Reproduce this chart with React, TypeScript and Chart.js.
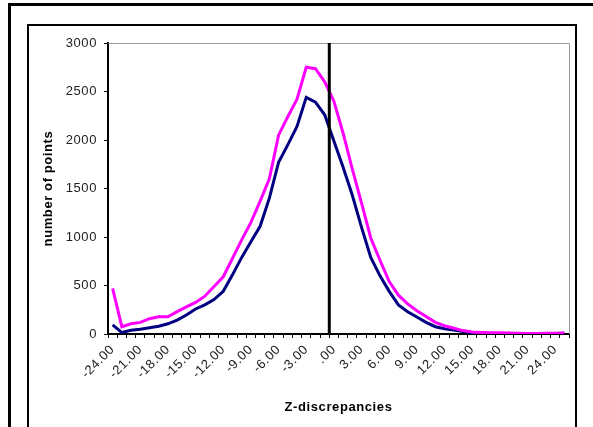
import React, { useEffect, useRef } from 'react';
import { Chart, registerables } from 'chart.js';

Chart.register(...registerables);

// Category axis (Z-discrepancy bins)
const categories = [
  -24, -23, -22, -21, -20, -19, -18, -17, -16, -15,
  -14, -13, -12, -11, -10, -9, -8, -7, -6, -5,
  -4, -3, -2, -1, 0, 1, 2, 3, 4, 5,
  6, 7, 8, 9, 10, 11, 12, 13, 14, 15,
  16, 17, 18, 19, 20, 21, 22, 23, 24, 25,
];

// Magenta series
const seriesMagenta = [
  470, 75, 105, 120, 158, 178, 178, 230, 280, 325,
  390, 490, 590, 780, 970, 1150, 1370, 1600, 2050, 2240,
  2420, 2750, 2735, 2600, 2400, 2070, 1700, 1350, 990, 760,
  540, 400, 310, 240, 180, 120, 85, 60, 35, 20,
  15, 12, 12, 10, 8, 6, 5, 8, 8, 10,
];

// Navy series
const seriesNavy = [
  95, 15, 38, 50, 65, 80, 105, 144, 196, 258,
  300, 355, 440, 610, 790, 950, 1110, 1400, 1770, 1950,
  2140, 2440, 2390, 2260, 1990, 1720, 1430, 1100, 790, 600,
  440, 300, 230, 175, 120, 75, 55, 40, 25, 12,
  8, 6, 5, 5, 4, 4, 3, 4, 5, 8,
];

const yMin = 0;
const yMax = 3000;
const yStep = 500;
const labelEvery = 3;

// Vertical reference line position on the category axis
const markerValue = -0.5;

const FONT = "'Liberation Sans', Arial, sans-serif";

const fmt = (v: number) => (v === 0 ? '.00' : v.toFixed(2));

const markerPlugin = {
  id: 'marker',
  beforeDraw(chart: any) {
    try {
      chart.ctx.letterSpacing = '0.6px';
    } catch (e) {}
  },
  afterDatasetsDraw(chart: any) {
    const { ctx, chartArea, scales } = chart;
    const xs = scales.x;
    // plot area gray border (top & right)
    ctx.save();
    ctx.strokeStyle = '#9a9a9a';
    ctx.lineWidth = 1;
    ctx.beginPath();
    ctx.moveTo(chartArea.left, chartArea.top + 0.5);
    ctx.lineTo(chartArea.right + 0.5, chartArea.top + 0.5);
    ctx.lineTo(chartArea.right + 0.5, chartArea.bottom);
    ctx.stroke();
    // vertical marker line
    let idx = 0;
    for (let i = 0; i < categories.length - 1; i++) {
      if (markerValue >= categories[i] && markerValue <= categories[i + 1]) {
        idx = i + (markerValue - categories[i]) / (categories[i + 1] - categories[i]);
        break;
      }
    }
    const px = xs.getPixelForValue(idx);
    ctx.strokeStyle = '#000';
    ctx.lineWidth = 3;
    ctx.beginPath();
    ctx.moveTo(px, chartArea.top);
    ctx.lineTo(px, chartArea.bottom);
    ctx.stroke();
    ctx.restore();
  },
};

export default function App() {
  const ref = useRef<HTMLCanvasElement>(null);

  useEffect(() => {
    const canvas = ref.current;
    if (!canvas) return;
    const chart = new Chart(canvas, {
      type: 'line',
      data: {
        labels: categories.map(fmt),
        datasets: [
          {
            label: 'magenta',
            data: seriesMagenta,
            borderColor: '#ff00ff',
            backgroundColor: '#ff00ff',
            borderWidth: 3,
            pointRadius: 0,
            tension: 0,
            fill: false,
          },
          {
            label: 'navy',
            data: seriesNavy,
            borderColor: '#000080',
            backgroundColor: '#000080',
            borderWidth: 3,
            pointRadius: 0,
            tension: 0,
            fill: false,
          },
        ],
      },
      options: {
        responsive: false,
        animation: false,
        layout: { padding: { left: 41, right: 24, top: 43, bottom: 0 } },
        plugins: {
          legend: { display: false },
          tooltip: { enabled: false },
        },
        scales: {
          x: {
            type: 'category',
            offset: true,
            grid: {
              display: true,
              drawOnChartArea: false,
              drawTicks: true,
              tickLength: 4,
              color: '#000',
              offset: true,
            },
            border: { display: true, color: '#000', width: 2 },
            ticks: {
              autoSkip: false,
              minRotation: 45,
              maxRotation: 45,
              color: '#222',
              padding: 4,
              font: { family: FONT, size: 13 },
              callback: (_v: any, i: number) => (i % labelEvery === 0 ? fmt(categories[i]) : ''),
            },
            title: {
              display: true,
              text: 'Z-discrepancies',
              color: '#000',
              font: { family: FONT, size: 13, weight: 'bold' },
              padding: { top: 0, bottom: 12 },
            },
            afterFit: (s: any) => {
              s.height = 93;
            },
          },
          y: {
            min: yMin,
            max: yMax,
            grid: {
              display: true,
              drawOnChartArea: false,
              drawTicks: true,
              tickLength: 4,
              color: '#000',
            },
            border: { display: true, color: '#000', width: 2 },
            ticks: {
              stepSize: yStep,
              color: '#222',
              padding: 7,
              font: { family: FONT, size: 13 },
              callback: (v: any) => String(v),
            },
            title: {
              display: true,
              text: 'number of points',
              color: '#000',
              font: { family: FONT, size: 13, weight: 'bold' },
              padding: { top: 0, bottom: 0 },
            },
            afterFit: (s: any) => {
              s.width = 67;
            },
          },
        },
      },
      plugins: [markerPlugin],
    } as any);
    return () => chart.destroy();
  }, []);

  return (
    <div
      style={{
        position: 'fixed',
        left: 0,
        top: 0,
        width: 593,
        height: 427,
        overflow: 'hidden',
        background: '#fff',
      }}
    >
      <div
        style={{
          position: 'absolute',
          left: 8,
          top: 3,
          width: 700,
          height: 700,
          border: '3px solid #000',
          boxSizing: 'border-box',
        }}
      />
      <div
        style={{
          position: 'absolute',
          left: 27,
          top: 24,
          width: 550,
          height: 600,
          border: '2px solid #000',
          boxSizing: 'border-box',
        }}
      />
      <canvas
        ref={ref}
        width={593}
        height={427}
        style={{ position: 'absolute', left: 0, top: 0, width: 593, height: 427 }}
      />
    </div>
  );
}
